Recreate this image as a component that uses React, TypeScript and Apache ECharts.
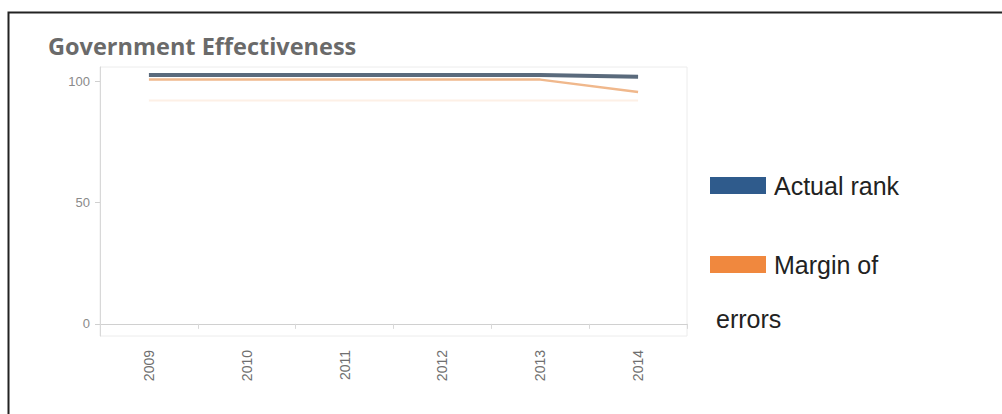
import React, { useEffect, useRef } from "react";
import * as echarts from "echarts";

const years = ["2009", "2010", "2011", "2012", "2013", "2014"];
const actualRank = [102.5, 102.5, 102.5, 102.5, 102.5, 101.8];
const marginOfErrors = [100.6, 100.6, 100.6, 100.6, 100.6, 95.5];
const marginLower = [92, 92, 92, 92, 92, 92];
const yTicks = [0, 50, 100];
const seriesNames = ["Actual rank", "Margin of errors"];

export default function App() {
  const ref = useRef<HTMLDivElement>(null);
  useEffect(() => {
    if (!ref.current) return;
    const chart = echarts.init(ref.current, null, { renderer: "svg" });
    chart.setOption({
      animation: false,
      backgroundColor: "#ffffff",
      title: {
        text: "Government Effectiveness",
        left: 43,
        top: 29,
        textStyle: {
          fontFamily: "Open Sans",
          fontWeight: "bold",
          fontSize: 23.5,
          color: "#6a6a6a",
        },
      },
      grid: {
        left: 100,
        right: 315,
        top: 67,
        bottom: 78,
        show: true,
        borderColor: "#ececec",
        borderWidth: 1,
      },
      legend: {
        orient: "vertical",
        left: 705,
        top: 168,
        itemWidth: 56,
        itemHeight: 17,
        itemGap: 54,
        icon: "rect",
        data: [
          { name: seriesNames[0], itemStyle: { color: "#2f5b8c" } },
          { name: seriesNames[1], itemStyle: { color: "#f0883e" } },
        ],
        formatter: (n: string) => (n === "Margin of errors" ? "Margin of" : n),
        textStyle: {
          fontFamily: "Liberation Sans",
          fontSize: 25,
          color: "#222",
          padding: [0, 0, 0, 3],
        },
      },
      xAxis: {
        type: "category",
        data: years,
        boundaryGap: true,
        axisLine: { lineStyle: { color: "#d0d0d0" } },
        axisTick: { show: true, alignWithLabel: false, length: 5, lineStyle: { color: "#d8d8d8" } },
        axisLabel: {
          rotate: 90,
          margin: 14,
          color: "#6f6f6f",
          fontFamily: "Liberation Sans",
          fontSize: 14,
        },
        splitLine: { show: false },
      },
      yAxis: {
        type: "value",
        min: -5,
        max: 105.8,
        axisLine: { show: true, lineStyle: { color: "#d8d8d8" } },
        axisTick: { show: true, length: 5, customValues: yTicks, lineStyle: { color: "#d0d0d0" } },
        axisLabel: {
          customValues: yTicks,
          margin: 10,
          color: "#8a8a8a",
          fontFamily: "Liberation Sans",
          fontSize: 13,
        },
        splitLine: { show: false },
      },
      series: [
        {
          name: seriesNames[1] + " lower",
          type: "line",
          data: marginLower,
          symbol: "none",
          lineStyle: { color: "#f6c49a", width: 2, opacity: 0.25 },
          z: 1,
        },
        {
          name: seriesNames[1],
          type: "line",
          data: marginOfErrors,
          symbol: "none",
          itemStyle: { color: "#f0883e" },
          lineStyle: { color: "#f0b88c", width: 2.5 },
          z: 2,
        },
        {
          name: seriesNames[0],
          type: "line",
          data: actualRank,
          symbol: "none",
          itemStyle: { color: "#2f5b8c" },
          lineStyle: { color: "#5a6a7c", width: 4 },
          z: 3,
        },
      ],
      graphic: [
        {
          type: "text",
          left: 716,
          top: 306,
          style: {
            text: "errors",
            fontFamily: "Liberation Sans",
            fontSize: 25,
            fill: "#222",
          },
        },
        {
          type: "rect",
          shape: { x: 8.5, y: 12.5, width: 1010, height: 420 },
          style: { fill: "none", stroke: "#222", lineWidth: 2 },
          silent: true,
        },
      ],
    });
    return () => chart.dispose();
  }, []);
  return (
    <div
      ref={ref}
      style={{ position: "fixed", left: 0, top: 0, width: 1002, height: 414 }}
    />
  );
}
